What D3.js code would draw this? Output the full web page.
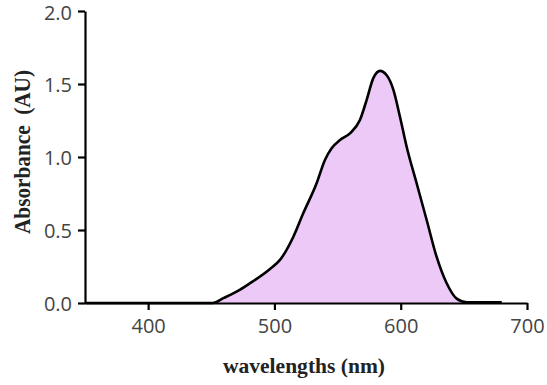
<!DOCTYPE html>
<html>
<head>
<meta charset="utf-8">
<script src="https://cdn.jsdelivr.net/npm/d3@7"></script>
<style>
  html, body { margin: 0; padding: 0; background: #fff; }
  svg { display: block; }
</style>
</head>
<body>
<svg id="chart" width="547" height="385"></svg>
<script>
// Data
const wavelengths = [350, 405, 451, 460, 472.5, 480.6, 496, 504.4, 515, 522.8, 533.4, 540, 545.3, 551.9, 559.8, 567.7, 573, 578.3, 583.6, 588.9, 594.2, 599.4, 604.7, 612.6, 620.5, 628.4, 636.4, 644.3, 652.2, 660, 680];
const absorbance  = [0,   0,   0,   0.035, 0.09, 0.135, 0.23, 0.295, 0.454, 0.614, 0.82, 0.98, 1.06, 1.116, 1.162, 1.253, 1.39, 1.54, 1.59, 1.56, 1.46, 1.276, 1.07, 0.82, 0.57, 0.317, 0.135, 0.03, 0.005, 0.004, 0.004];
const xTicks = [400, 500, 600, 700];
const yTicks = [0, 0.5, 1.0, 1.5, 2.0];
const xLabel = "wavelengths (nm)";
const yLabel = "Absorbance  (AU)";

const data = wavelengths.map((w, i) => ({ w, a: absorbance[i] }));

const svg = d3.select("#chart");
const x = d3.scaleLinear().domain([350, 700]).range([85, 527]);
const y = d3.scaleLinear().domain([0, 2]).range([303, 11]);

const area = d3.area()
  .x(d => x(d.w)).y0(y(0)).y1(d => y(d.a))
  .curve(d3.curveMonotoneX);
const line = d3.line()
  .x(d => x(d.w)).y(d => y(d.a))
  .curve(d3.curveMonotoneX);

svg.append("path").datum(data)
  .attr("d", area)
  .attr("fill", "#ecc9f7");

// axes
const xAxis = svg.append("g")
  .attr("transform", `translate(0,${y(0)})`)
  .call(d3.axisBottom(x).tickValues(xTicks).tickFormat(d3.format("d")).tickSize(7).tickSizeOuter(0).tickPadding(9));
const yAxis = svg.append("g")
  .attr("transform", `translate(${x(350)},0)`)
  .call(d3.axisLeft(y).tickValues(yTicks).tickFormat(d3.format(".1f")).tickSize(7).tickSizeOuter(0).tickPadding(6));

[xAxis, yAxis].forEach(g => {
  g.select(".domain").attr("stroke", "#000").attr("stroke-width", 2.2);
  g.selectAll(".tick line").attr("stroke", "#000").attr("stroke-width", 2.2);
  g.selectAll(".tick text")
    .attr("fill", "#444")
    .style("font-family", "'Open Sans', 'Liberation Sans', sans-serif")
    .style("font-size", "20px");
});
yAxis.selectAll(".tick text").attr("dy", "0.36em");
yAxis.selectAll(".tick").filter(d => d === 2).select("text").attr("dy", "0.42em");

svg.append("path").datum(data)
  .attr("d", line)
  .attr("fill", "none")
  .attr("stroke", "#000")
  .attr("stroke-width", 2.6)
  .attr("stroke-linejoin", "round");

svg.append("text")
  .attr("x", 304).attr("y", 373)
  .attr("text-anchor", "middle")
  .attr("textLength", 162)
  .attr("lengthAdjust", "spacingAndGlyphs")
  .style("font-family", "'Liberation Serif', 'DejaVu Serif', serif")
  .style("font-weight", "bold")
  .style("font-size", "21px")
  .attr("fill", "#222")
  .text(xLabel);

svg.append("text")
  .attr("transform", "translate(30,152) rotate(-90)")
  .attr("text-anchor", "middle")
  .attr("textLength", 164)
  .attr("lengthAdjust", "spacingAndGlyphs")
  .style("white-space", "pre")
  .style("font-family", "'Liberation Serif', 'DejaVu Serif', serif")
  .style("font-weight", "bold")
  .style("font-size", "23px")
  .attr("fill", "#222")
  .text(yLabel);
</script>
</body>
</html>
